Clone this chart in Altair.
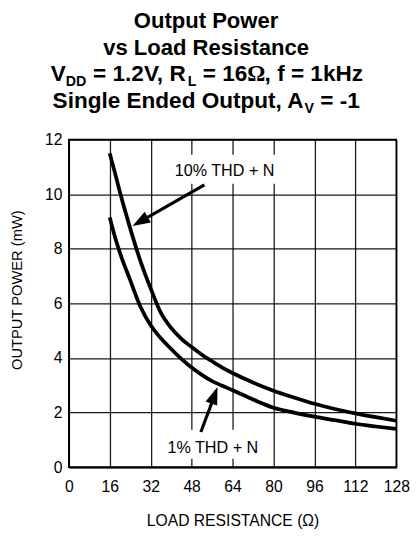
import altair as alt
import pandas as pd

FONT = "Liberation Sans, Arial, Helvetica, sans-serif"
SERIF = "Liberation Serif, Times New Roman, serif"

# ---- data ----
resistance = [16, 18, 20, 24, 28, 32, 36, 40, 44, 48, 52, 56, 60, 64, 72, 80, 88, 96, 104, 112, 120, 128]
power_10pct = [11.5, 10.8, 10.07, 8.75, 7.55, 6.55, 5.65, 5.1, 4.7, 4.4, 4.12, 3.88, 3.65, 3.45,
               3.1, 2.8, 2.55, 2.32, 2.13, 1.97, 1.83, 1.7]
power_1pct = [9.15, 8.45, 7.85, 6.85, 5.88, 5.2, 4.72, 4.33, 3.97, 3.65, 3.38, 3.15, 2.98, 2.82,
              2.48, 2.18, 2.0, 1.85, 1.72, 1.59, 1.49, 1.4]
series_names = ["10% THD + N", "1% THD + N"]

x_ticks = [0, 16, 32, 48, 64, 80, 96, 112, 128]
y_ticks = [0, 2, 4, 6, 8, 10, 12]

# annotations (data units)
label_r = [60.9, 56.3]
label_p = [10.86, 0.68]
box_r1 = [39.2, 36.5]
box_r2 = [82.1, 76.5]
box_p1 = [10.38, 0.31]
box_p2 = [11.45, 1.37]
arrow_tail_r = [53.0, 51.6]
arrow_tail_p = [10.34, 1.29]
arrow_neck_r = [28.9, 56.6]
arrow_neck_p = [9.05, 2.53]
arrow_tip_r = [24.9, 58.1]
arrow_tip_p = [8.84, 2.94]
arrow_angle = [240, 20]

curves = pd.DataFrame({
    "R": resistance * 2,
    "P": power_10pct + power_1pct,
    "series": [series_names[0]] * len(resistance) + [series_names[1]] * len(resistance),
})
ann = pd.DataFrame({
    "label": series_names,
    "R": label_r, "P": label_p,
    "R1": box_r1, "R2": box_r2, "P1": box_p1, "P2": box_p2,
    "TR": arrow_tail_r, "TP": arrow_tail_p,
    "NR": arrow_neck_r, "NP": arrow_neck_p,
    "HR": arrow_tip_r, "HP": arrow_tip_p,
    "ang": arrow_angle,
})

def X(field):
    return alt.X(f"{field}:Q",
                 scale=alt.Scale(domain=[0, 128], nice=False, zero=False),
                 axis=alt.Axis(values=x_ticks, title="LOAD RESISTANCE  (Ω)", labelFlush=False,
                               labelPadding=12, labelFontSize=16, titleFontSize=16,
                               titleBaseline="alphabetic", titleY=59.5, titleFontWeight="normal"))

def Y(field):
    return alt.Y(f"{field}:Q",
                 scale=alt.Scale(domain=[0, 12], nice=False),
                 axis=alt.Axis(values=y_ticks, title="OUTPUT POWER (mW)", labelPadding=7,
                               labelFontSize=16, titleFontSize=15, titleX=-45.5, titleY=153,
                               titleBaseline="bottom", titleFontWeight="normal"))

boxes = alt.Chart(ann).mark_rect(color="white", opacity=1).encode(
    x=X("R1"), x2="R2:Q", y=Y("P1"), y2="P2:Q")

lines = alt.Chart(curves).mark_line(color="black", strokeWidth=3.8, interpolate="monotone").encode(
    x=X("R"), y=Y("P"), detail="series:N")

labels = alt.Chart(ann).mark_text(font=FONT, fontSize=16.5, color="black", baseline="middle", align="center").encode(
    x=X("R"), y=Y("P"), text="label:N")

shafts = alt.Chart(ann).mark_rule(color="black", strokeWidth=3.2).encode(
    x=X("TR"), y=Y("TP"), x2="NR:Q", y2="NP:Q")

heads = alt.Chart(ann).mark_point(shape="M0,0L-0.35,1L0.35,1Z", filled=True, size=1296,
                                  color="black", opacity=1, strokeWidth=0).encode(
    x=X("HR"), y=Y("HP"), angle=alt.Angle("ang:Q", scale=None))

one = pd.DataFrame({"k": [0]})

def txt(s, x, y, size, weight="bold", align="left", font=FONT):
    return alt.Chart(one).mark_text(text=s, align=align, baseline="alphabetic", fontSize=size,
                                    fontWeight=weight, font=font, color="black").encode(
        x=alt.value(x), y=alt.value(y))

# title pieces (pixel offsets relative to plot origin)
title_layers = [
    txt("Output Power", 140, -113.7, 22.5, align="center"),
    txt("vs Load Resistance", 140, -86.3, 22.5, align="center"),
    txt("V", -18.5, -59.7, 23),
    txt("DD", -3.0, -55.2, 14.5),
    txt("= 1.2V, R", 24.8, -59.7, 23),
    txt("L", 121.3, -55.2, 14.5),
    txt("= 16", 136.6, -59.7, 23),
    txt("Ω", 182.0, -59.7, 23, font=SERIF),
    txt(", f = 1kHz", 199.7, -59.7, 23),
    txt("Single Ended Output, A", -16.5, -32, 23),
    txt("V", 240.4, -27.5, 14.5),
    txt("= -1", 256.5, -32, 23),
]

chart = alt.layer(boxes, lines, labels, shafts, heads, *title_layers).properties(
    width=334, height=334,
    padding={"left": 62, "top": 129, "right": 15, "bottom": 67},
    autosize=alt.AutoSizeParams(type="none"),
).configure_view(
    stroke="black", strokeWidth=1.6
).configure_axis(
    grid=True, gridColor="#000000", gridWidth=1.3, gridOpacity=0.9,
    domainColor="black", domainWidth=1.6, ticks=False, tickSize=0,
    labelFont=FONT, labelColor="black", titleFont=FONT, titleColor="black",
)

chart.save("out.html", embed_options={"renderer": "svg", "actions": False})
